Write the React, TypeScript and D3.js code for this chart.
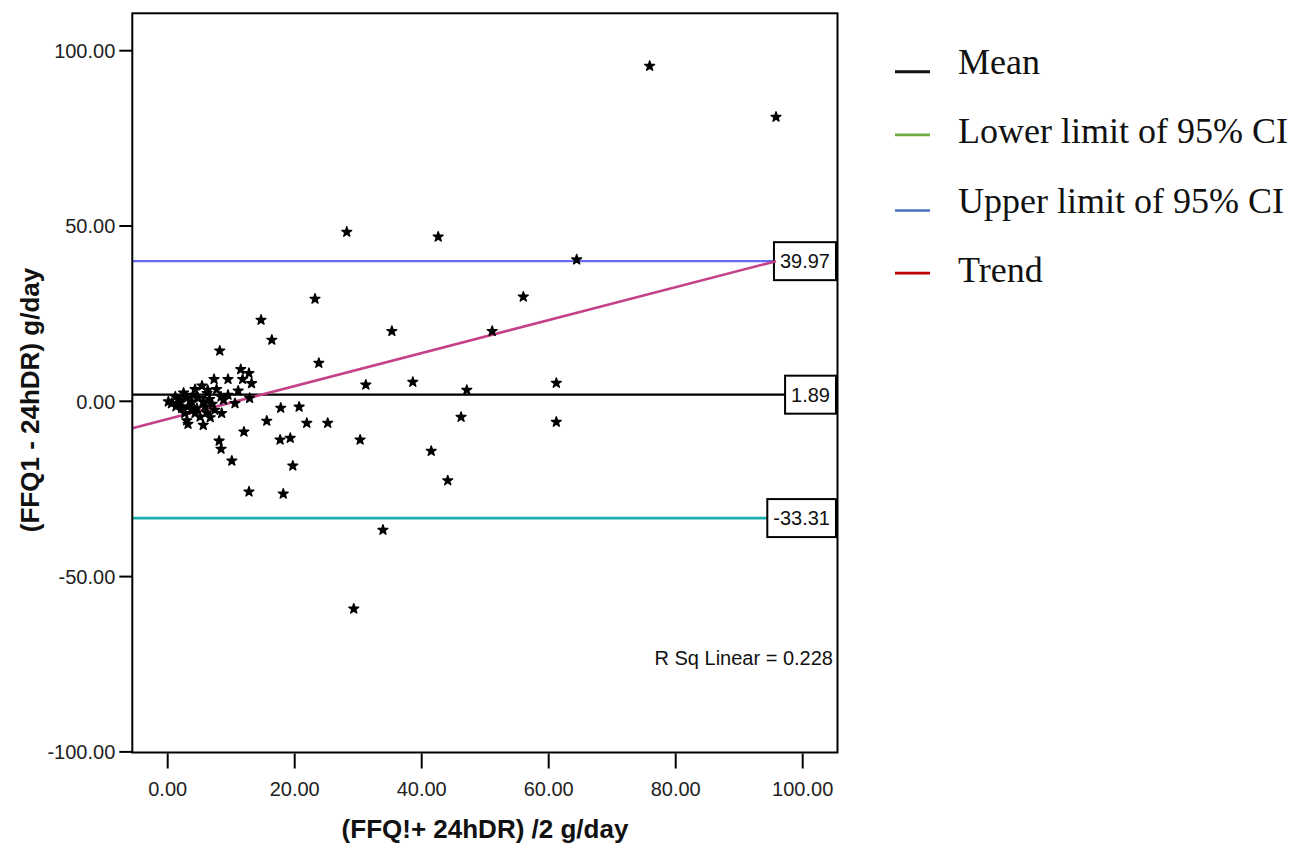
import React from "react";
import * as d3 from "d3";

// ---------- data ----------
const meanX = [75.9, 95.8, 28.2, 42.6, 64.4, 23.2, 56.0, 14.7, 16.4, 35.3, 51.1, 23.8, 8.2, 31.2, 38.6, 47.1, 61.2, 61.2, 46.2, 30.3, 41.5, 44.1, 33.9, 29.3, 25.2, 21.9, 20.7, 17.8, 15.6, 17.7, 19.3, 19.7, 18.2, 12.8, 12.0, 10.1, 8.1, 8.4,
  11.5, 12.8, 11.8, 13.2, 7.3, 9.5, 5.4, 7.7, 11.1, 9.5, 4.3, 2.5, 6.2, 8.4, 1.2, 0.1, 0.6, 1.7, 3.0, 3.8, 4.8, 5.6, 6.6, 8.8, 10.6, 12.9, 1.3, 2.2, 3.2, 4.6, 5.9, 2.7, 4.3, 6.1, 7.4, 8.5, 5.1, 6.7, 3.0, 3.2, 5.6, 3.8, 2.0, 7.0, 4.0, 6.3];
const diffY = [95.6, 81.1, 48.3, 46.9, 40.4, 29.2, 29.8, 23.2, 17.5, 20.0, 20.0, 10.9, 14.4, 4.7, 5.5, 3.2, 5.2, -5.9, -4.5, -11.0, -14.2, -22.6, -36.7, -59.2, -6.2, -6.2, -1.6, -1.9, -5.6, -11.0, -10.5, -18.4, -26.4, -25.8, -8.7, -17.0, -11.3, -13.6,
  9.1, 8.0, 6.3, 5.1, 6.3, 6.3, 4.4, 3.4, 3.0, 1.8, 3.4, 2.4, 2.3, 1.3, 1.3, -0.1, -0.6, 0.4, 0.9, -0.1, 0.9, -0.1, 0.6, 0.4, -0.6, 0.9, -1.5, -2.0, -1.5, -2.0, -1.5, -3.4, -3.4, -3.2, -2.5, -3.4, -4.4, -4.6, -5.5, -6.5, -6.8, -2.5, 0.0, -0.8, 1.8, 3.2];

const meanDiff = 1.89;
const upperLimit = 39.97;
const lowerLimit = -33.31;
const trendIntercept = -5.05;
const trendSlope = 0.47;
const rSq = "R Sq Linear = 0.228";

const xTicks = [0, 20, 40, 60, 80, 100];
const yTicks = [100, 50, 0, -50, -100];

const legendLabels = ["Mean", "Lower limit of 95% CI", "Upper limit of 95% CI", "Trend"];
const legendColors = ["#111111", "#70ad47", "#4472c4", "#c00000"];

// ---------- layout ----------
const W = 1301, H = 847;
const L = 132.3, R = 837.5, T = 13.3, B = 752.5;

const x = d3.scaleLinear().domain([0, 100]).range([167.7, 802.7]);
const y = d3.scaleLinear().domain([0, 100]).range([401.3, 50.7]);

const charW: Record<string, number> = { "0": 0.556, "1": 0.556, "2": 0.556, "3": 0.556, "4": 0.556, "5": 0.556, "6": 0.556, "7": 0.556, "8": 0.556, "9": 0.556, ".": 0.278, "-": 0.333 };
const textWidth = (s: string, fs: number) => s.split("").reduce((a, c) => a + (charW[c] ?? 0.556), 0) * fs;

const fmt = (v: number) => v.toFixed(2);
const starPath = d3.symbol(d3.symbolStar, 30)() as string;

export default function App() {
  const fs = 20;
  const refs = [
    { v: upperLimit, color: "#6868f4", w: 2.2 },
    { v: meanDiff, color: "#000000", w: 2.2 },
    { v: lowerLimit, color: "#1eaeae", w: 2.6 },
  ];
  const xMaxData = d3.max(meanX) as number;
  const trendLine = d3.line<number>().x((d) => x(d)).y((d) => y(trendIntercept + trendSlope * d));
  const xLeft = x.invert(L);

  return (
    <svg width={W} height={H} style={{ position: "absolute", left: 0, top: 0, background: "#fff" }} fontFamily="'Liberation Sans', Arial, sans-serif">
      <rect x={0} y={0} width={W} height={H} fill="#fff" />
      {/* reference lines with boxes */}
      {refs.map((r) => {
        const label = fmt(r.v);
        const bw = textWidth(label, fs) + 12;
        const bx = R - 1.5 - bw;
        const yy = y(r.v);
        return (
          <g key={label}>
            <line x1={L} x2={bx} y1={yy} y2={yy} stroke={r.color} strokeWidth={r.w} />
            <rect x={bx} y={yy - 19} width={bw} height={38} fill="#fff" stroke="#000" strokeWidth={2} />
            <text x={bx + bw / 2} y={yy} dy="0.36em" textAnchor="middle" fontSize={fs} fill="#111">{label}</text>
          </g>
        );
      })}
      {/* trend line */}
      <path d={trendLine([xLeft, xMaxData]) as string} stroke="#c4418a" strokeWidth={2.6} fill="none" />
      {/* points */}
      {meanX.map((mx, i) => (
        <path key={i} d={starPath} transform={`translate(${x(mx)},${y(diffY[i])})`} fill="#000" stroke="#000" strokeWidth={1.4} strokeLinejoin="round" />
      ))}
      {/* frame */}
      <rect x={L} y={T} width={R - L} height={B - T} fill="none" stroke="#000" strokeWidth={2} />
      {/* y axis ticks */}
      {yTicks.map((t) => (
        <g key={"y" + t}>
          <line x1={L - 13} x2={L} y1={y(t)} y2={y(t)} stroke="#000" strokeWidth={2} />
          <text x={L - 17} y={y(t)} dy="0.36em" textAnchor="end" fontSize={fs} fill="#222">{fmt(t)}</text>
        </g>
      ))}
      {/* x axis ticks */}
      {xTicks.map((t) => (
        <g key={"x" + t}>
          <line x1={x(t)} x2={x(t)} y1={B + 1} y2={B + 16} stroke="#000" strokeWidth={2} />
          <text x={x(t)} y={789} dy="0.36em" textAnchor="middle" fontSize={fs} fill="#222">{fmt(t)}</text>
        </g>
      ))}
      {/* R sq */}
      <text x={833} y={665} textAnchor="end" fontSize={fs} fill="#111">{rSq}</text>
      {/* axis titles */}
      <text x={485} y={829} dy="0.36em" textAnchor="middle" fontSize={26} fontWeight="bold" fill="#111">(FFQ!+ 24hDR) /2 g/day</text>
      <text transform={`translate(30,400) rotate(-90)`} dy="0.36em" textAnchor="middle" fontSize={26} fontWeight="bold" fill="#111">(FFQ1 - 24hDR) g/day</text>
      {/* legend */}
      {legendLabels.map((lab, i) => {
        const base = 74.3 + i * 69.1;
        const ly = i === 0 ? base - 2.5 : i === 2 ? base - 2 : base - 8.5;
        return (
          <g key={lab}>
            <line x1={895} x2={930} y1={ly} y2={ly} stroke={legendColors[i]} strokeWidth={i === 0 ? 3 : 2.6} />
            <text x={958} y={base} fontSize={36} fontFamily="'Liberation Serif', 'Times New Roman', serif" fill="#111">{lab}</text>
          </g>
        );
      })}
    </svg>
  );
}
